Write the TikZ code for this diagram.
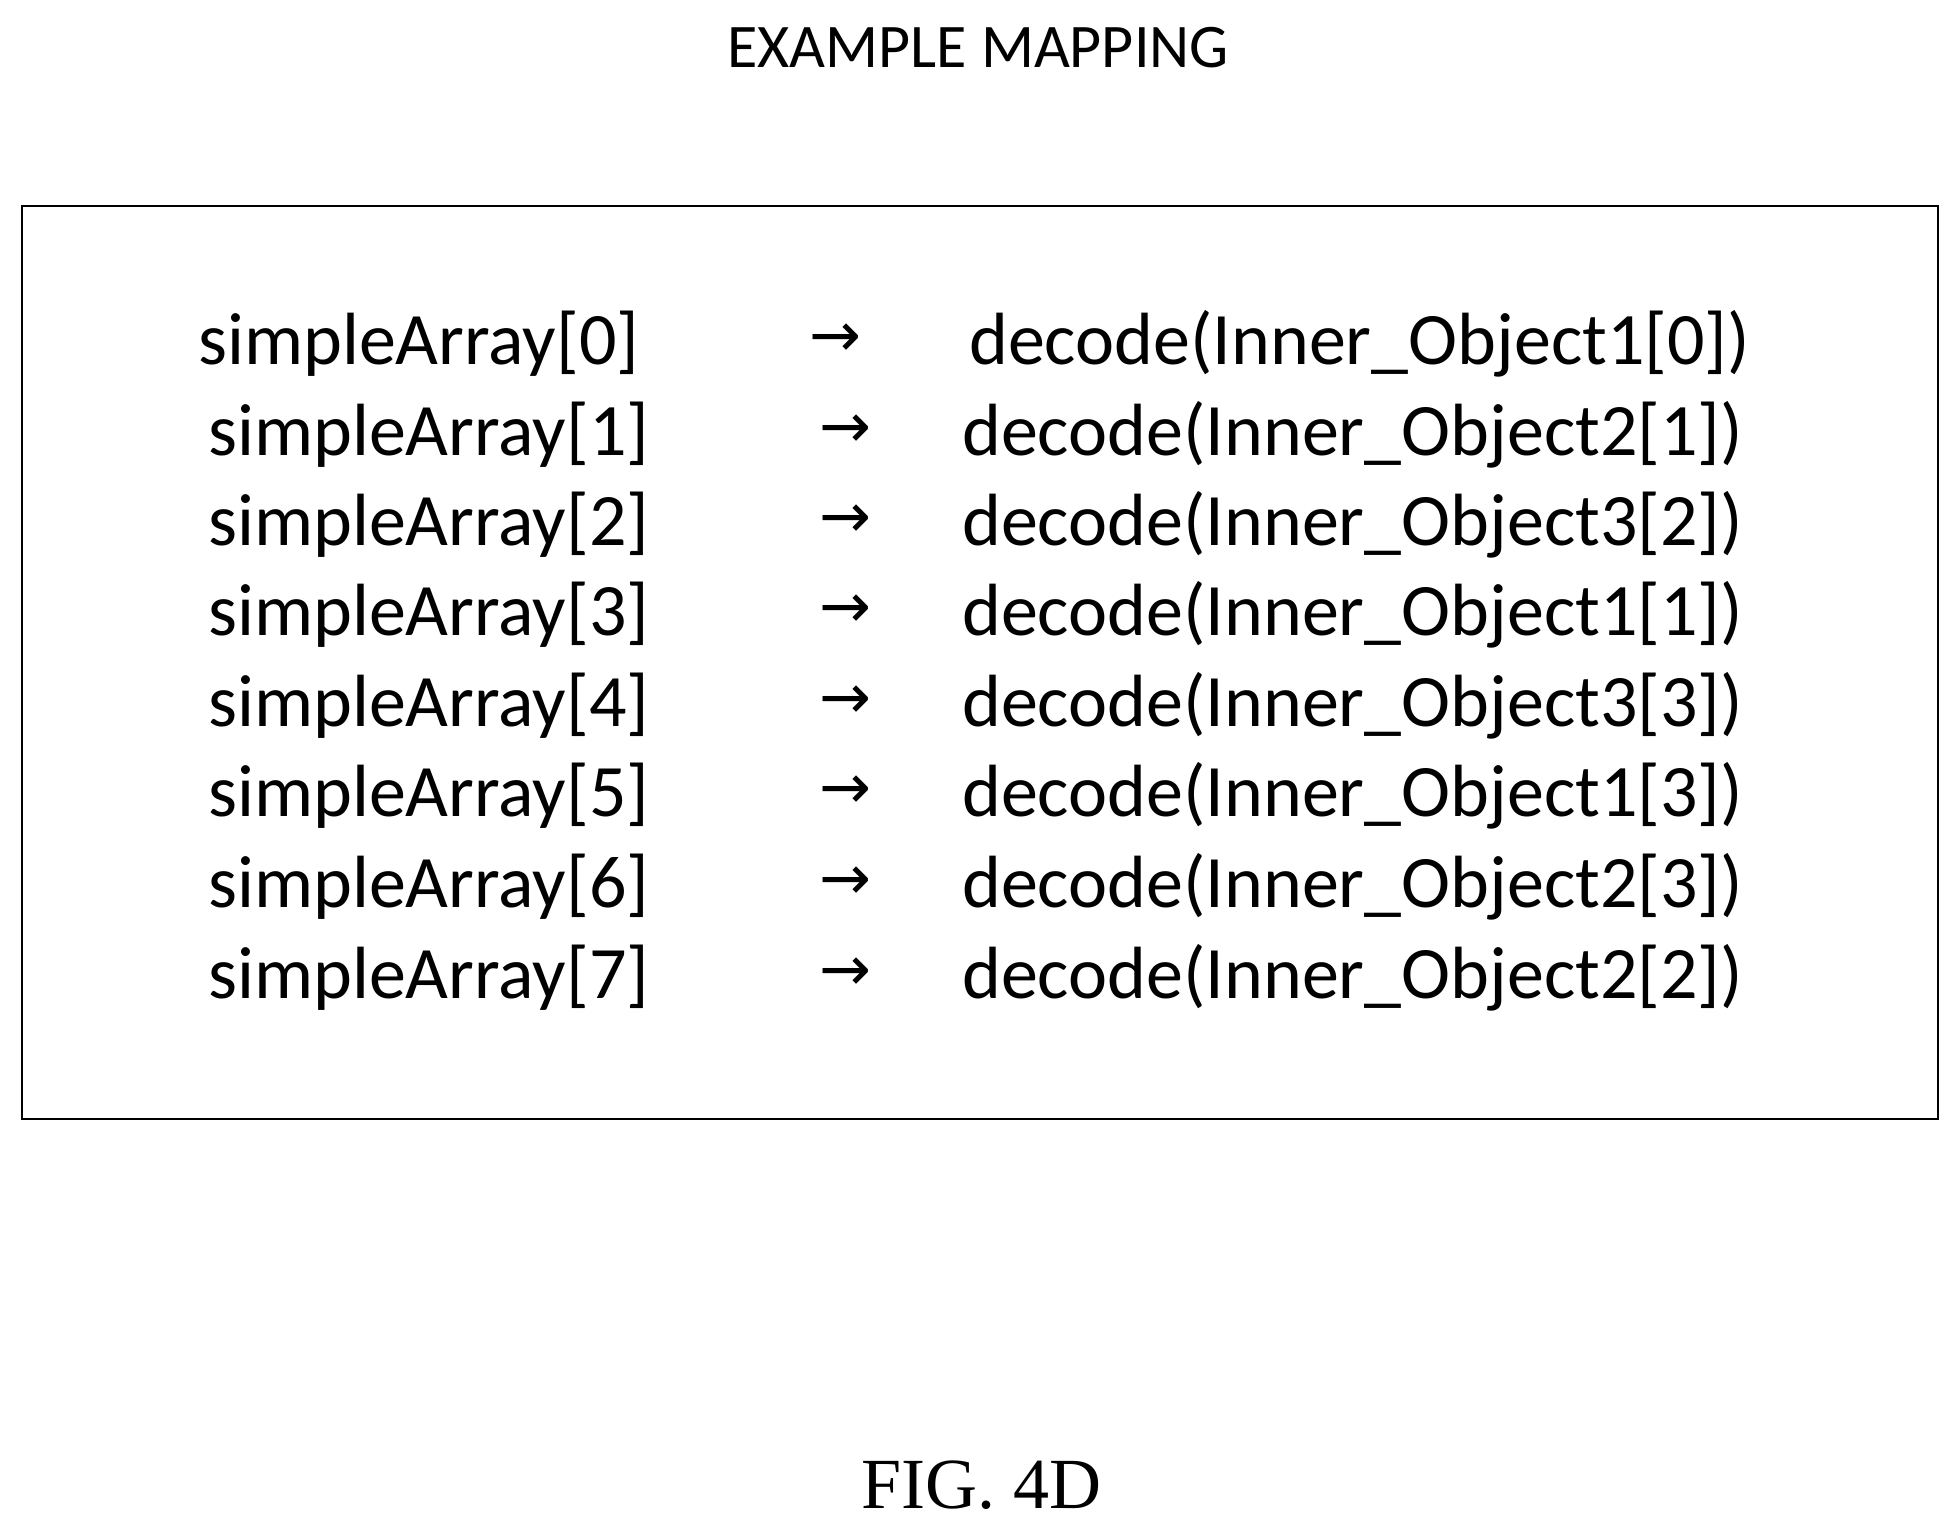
\documentclass[tikz,border=0pt]{standalone}
\usepackage{fontspec}
\setmainfont{Carlito}
\newfontfamily\arrowfont{DejaVu Sans}
\newfontfamily\figfont{Liberation Serif}
\begin{document}
\begin{tikzpicture}[x=1pt,y=1pt,
  txt/.style={inner sep=0pt,font=\fontsize{74}{80}\selectfont},
  arr/.style={inner sep=0pt,font=\arrowfont\fontsize{62}{70}\selectfont}]
\useasboundingbox (0,0) rectangle (1950,-1523);
\node[inner sep=0pt,font=\fontsize{62}{70}\selectfont] (title) at (978,-48) {EXAMPLE MAPPING};
\draw[line width=2.5pt] (22,-206) rectangle (1938,-1119);
\node[txt,anchor=west] (l0) at (198,-344) {simpleArray[0]};
\node[arr] (a0) at (835,-340) {→};
\node[txt,anchor=west] (r0) at (969,-344) {decode(Inner\_Object1[0])};
\foreach \i/\y/\r in {1/435/decode(Inner\_Object2[1]),2/525/decode(Inner\_Object3[2]),3/615/decode(Inner\_Object1[1]),4/706/decode(Inner\_Object3[3]),5/796/decode(Inner\_Object1[3]),6/887/decode(Inner\_Object2[3]),7/978/decode(Inner\_Object2[2])}{
  \node[txt,anchor=west] (l\i) at (208,-\y) {simpleArray[\i]};
  \node[arr] (a\i) at (845,-\y+4) {→};
  \node[txt,anchor=west] (r\i) at (962,-\y) {\r};
}
\node[inner sep=0pt,font=\figfont\fontsize{72}{80}\selectfont] (fig) at (981,-1485) {FIG. 4D};
\end{tikzpicture}
\end{document}
